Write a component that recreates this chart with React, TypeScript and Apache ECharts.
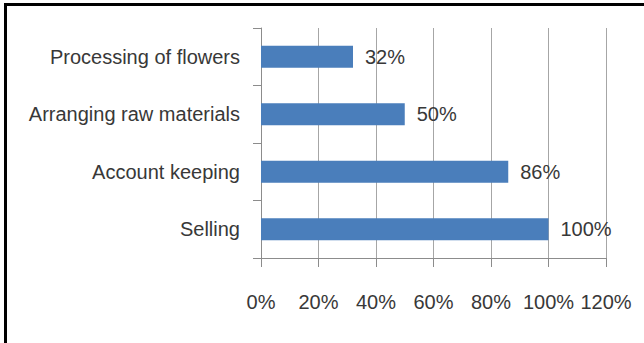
import React, { useEffect, useRef } from "react";
import * as echarts from "echarts";

const categories = ["Selling", "Account keeping", "Arranging raw materials", "Processing of flowers"];
const values = [100, 86, 50, 32];
const xTicks = [0, 20, 40, 60, 80, 100, 120];

const FONT = "'Liberation Sans', Arial, sans-serif";

export default function App() {
  const ref = useRef<HTMLDivElement>(null);
  useEffect(() => {
    document.body.style.margin = "0";
    const chart = echarts.init(ref.current!, undefined, { renderer: "svg" });
    chart.setOption({
      animation: false,
      backgroundColor: "#ffffff",
      grid: { left: 261, right: 38, top: 28, bottom: 85, containLabel: false, outerBoundsMode: "none" },
      xAxis: {
        type: "value",
        min: xTicks[0],
        max: xTicks[xTicks.length - 1],
        interval: 20,
        axisLine: { show: true, lineStyle: { color: "#8c8c8c", width: 1 } },
        axisTick: { show: true, length: 9, lineStyle: { color: "#8c8c8c" } },
        splitLine: { show: true, lineStyle: { color: "#a6a6a6", width: 1 } },
        axisLabel: {
          formatter: (v: number) => v + "%",
          color: "#383838",
          fontFamily: FONT,
          fontSize: 20,
          margin: 34,
        },
      },
      yAxis: {
        type: "category",
        data: categories,
        axisLine: { show: true, lineStyle: { color: "#8c8c8c", width: 1 } },
        axisTick: { show: true, length: 8, lineStyle: { color: "#8c8c8c" } },
        axisLabel: {
          color: "#383838",
          fontFamily: FONT,
          fontSize: 20,
          margin: 21,
        },
      },
      series: [
        {
          type: "bar",
          data: values,
          barWidth: 22,
          itemStyle: { color: "#4a7ebb" },
          label: {
            show: true,
            position: "right",
            distance: 12,
            formatter: (p: any) => p.value + "%",
            color: "#383838",
            fontFamily: FONT,
            fontSize: 20,
          },
        },
      ],
      graphic: [
        { type: "rect", shape: { x: 4, y: 3, width: 3, height: 340 }, style: { fill: "#000" } },
        { type: "rect", shape: { x: 4, y: 3, width: 640, height: 3 }, style: { fill: "#000" } },
      ],
    });
    return () => chart.dispose();
  }, []);
  return <div ref={ref} style={{ position: "fixed", left: 0, top: 0, width: 644, height: 343 }} />;
}
